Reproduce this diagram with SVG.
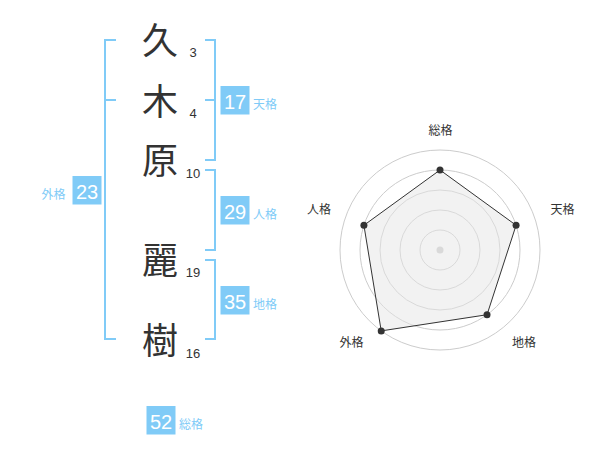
<svg xmlns="http://www.w3.org/2000/svg" width="600" height="470" viewBox="0 0 600 470">
<style>
.ch{font-family:"Noto Sans CJK JP","Noto Sans CJK SC",sans-serif;font-size:36px;fill:#333;text-anchor:middle}
.num{font-family:"Liberation Sans",Arial,sans-serif;font-size:13px;fill:#333;text-anchor:middle}
.br{fill:none;stroke:#80cbf7;stroke-width:2}
.box{fill:#80cbf7}
.bt{font-family:"Liberation Sans",Arial,sans-serif;font-size:20px;fill:#fff;text-anchor:middle}
.lb{font-family:"Noto Sans CJK JP","Noto Sans CJK SC",sans-serif;font-size:12px;fill:#80cbf7}
.rl{font-family:"Noto Sans CJK JP","Noto Sans CJK SC",sans-serif;font-size:12px;fill:#333;text-anchor:middle}
.ring{fill:none;stroke:#ccc;stroke-width:1}
.pt{fill:#333}
</style>
<rect width="600" height="470" fill="#fff"/>
<g id="connectors">
<path class="br" d="M116,40 H105 V339 H116 M105,100 H116"/>
<path class="br" d="M205,40 H215 V160 H205 M205,100 H215"/>
<path class="br" d="M205,170 H215 V250 H205"/>
<path class="br" d="M205,260 H215 V339 H205"/>
</g>
<g id="char1"><text class="ch" x="160" y="54">久</text><text class="num" x="193" y="57">3</text></g>
<g id="char2"><text class="ch" x="160" y="115">木</text><text class="num" x="193" y="118">4</text></g>
<g id="char3"><text class="ch" x="160" y="174">原</text><text class="num" x="193" y="177.5">10</text></g>
<g id="char4"><text class="ch" x="160" y="274">麗</text><text class="num" x="193" y="276.5">19</text></g>
<g id="char5"><text class="ch" x="160" y="354">樹</text><text class="num" x="193" y="357.5">16</text></g>
<g id="tenkaku"><rect class="box" x="220.5" y="86" width="29" height="28.5"/><text class="bt" x="235" y="109">17</text><text class="lb" x="253" y="108.5">天格</text></g>
<g id="jinkaku"><rect class="box" x="220.5" y="196" width="29" height="28.5"/><text class="bt" x="235" y="219">29</text><text class="lb" x="253" y="218.5">人格</text></g>
<g id="chikaku"><rect class="box" x="220.5" y="286" width="29" height="28.5"/><text class="bt" x="235" y="309">35</text><text class="lb" x="253" y="308.5">地格</text></g>
<g id="gaikaku"><rect class="box" x="72.5" y="176" width="29" height="28.5"/><text class="bt" x="87" y="199">23</text><text class="lb" x="41.5" y="198.5">外格</text></g>
<g id="soukaku"><rect class="box" x="146.5" y="406" width="29" height="28.5"/><text class="bt" x="161" y="429">52</text><text class="lb" x="179" y="428.5">総格</text></g>
<g id="radar">
<circle class="ring" cx="440" cy="250" r="20"/>
<circle class="ring" cx="440" cy="250" r="40"/>
<circle class="ring" cx="440" cy="250" r="60"/>
<circle class="ring" cx="440" cy="250" r="80"/>
<circle class="ring" cx="440" cy="250" r="100"/>
<circle cx="440" cy="250" r="3.5" fill="#ccc"/>
<polygon points="440,170 516.08,225.28 487.02,314.72 381.22,330.9 363.92,225.28" fill="#e6e6e6" fill-opacity="0.5" stroke="#333" stroke-width="1"/>
<circle class="pt" cx="440" cy="170" r="3.5"/>
<circle class="pt" cx="516.08" cy="225.28" r="3.5"/>
<circle class="pt" cx="487.02" cy="314.72" r="3.5"/>
<circle class="pt" cx="381.22" cy="330.9" r="3.5"/>
<circle class="pt" cx="363.92" cy="225.28" r="3.5"/>
<text class="rl" x="440.5" y="135">総格</text>
<text class="rl" x="562.5" y="213.5">天格</text>
<text class="rl" x="524" y="347">地格</text>
<text class="rl" x="351.5" y="347">外格</text>
<text class="rl" x="319" y="213.5">人格</text>
</g>
</svg>
